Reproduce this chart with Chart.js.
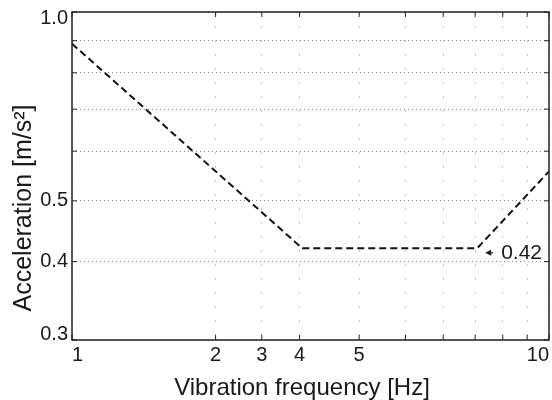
<!DOCTYPE html>
<html>
<head>
<meta charset="utf-8">
<title>Vibration acceleration limit</title>
<script src="https://cdn.jsdelivr.net/npm/chart.js@4.4.1/dist/chart.umd.min.js"></script>
<style>
  html, body { margin: 0; padding: 0; background: #fff; }
  #wrap { width: 552px; height: 400px; }
</style>
</head>
<body>
<div id="wrap"><canvas id="limitChart" width="552" height="400"></canvas></div>
<script>
// Limit curve: vibration frequency [Hz] against acceleration [m/s²]
const freqHz = [1, 3.04, 7.07, 10];
const accel = [0.89, 0.42, 0.42, 0.557];

// Tick positions and the labels printed under / beside them
const xTicks = [1, 2, 2.5, 3, 4, 5, 6, 7, 8, 9, 10];
const xTickLabels = ['1', '2', '3', '4', '5', '', '', '', '', '', '10'];
const yTicks = [0.3, 0.4, 0.5, 0.6, 0.7, 0.8, 0.9, 1.0];
const yTickLabels = ['0.3', '0.4', '0.5', '', '', '', '', '1.0'];

const xTitle = 'Vibration frequency [Hz]';
const yTitle = 'Acceleration [m/s²]';
const calloutIndex = 2; // end of the plateau gets a value tag

const FONT = '"Liberation Sans", Arial, Helvetica, sans-serif';
const INK = '#1a1a1a';

// Frame, inward tick marks, axis titles and the value tag
const framePlugin = {
  id: 'frame',
  afterDraw(chart) {
    const { ctx, chartArea: a, scales: { x, y } } = chart;
    ctx.save();
    ctx.setLineDash([]);
    ctx.strokeStyle = '#222';

    // tick marks pointing into the plot
    ctx.lineWidth = 1;
    ctx.beginPath();
    xTicks.forEach(v => {
      const px = x.getPixelForValue(v);
      ctx.moveTo(px, a.bottom); ctx.lineTo(px, a.bottom - 5);
      ctx.moveTo(px, a.top); ctx.lineTo(px, a.top + 5);
    });
    yTicks.forEach(v => {
      const py = y.getPixelForValue(v);
      ctx.moveTo(a.left, py); ctx.lineTo(a.left + 5, py);
      ctx.moveTo(a.right, py); ctx.lineTo(a.right - 5, py);
    });
    ctx.stroke();

    // box around the plot area
    ctx.lineWidth = 1.5;
    ctx.strokeRect(a.left, a.top, a.right - a.left, a.bottom - a.top);

    // axis titles
    ctx.fillStyle = INK;
    ctx.textAlign = 'center';
    ctx.textBaseline = 'alphabetic';
    ctx.font = '24px ' + FONT;
    ctx.fillText(xTitle, 302, 395);

    ctx.save();
    ctx.translate(31, 208);
    ctx.rotate(-Math.PI / 2);
    ctx.font = '25px ' + FONT;
    ctx.fillText(yTitle, 0, 0);
    ctx.restore();

    // value tag with a small arrowhead pointing back at the knee
    const px = x.getPixelForValue(freqHz[calloutIndex]);
    const py = y.getPixelForValue(accel[calloutIndex]);
    ctx.beginPath();
    ctx.moveTo(px + 8, py + 4.5);
    ctx.lineTo(px + 14, py + 1.5);
    ctx.lineTo(px + 14, py + 7.5);
    ctx.closePath();
    ctx.fill();
    ctx.lineWidth = 1.2;
    ctx.beginPath();
    ctx.moveTo(px + 13, py + 4.5);
    ctx.lineTo(px + 16, py + 4.5);
    ctx.stroke();

    ctx.font = '21px ' + FONT;
    ctx.textAlign = 'left';
    ctx.textBaseline = 'middle';
    ctx.fillText(accel[calloutIndex].toFixed(2), px + 24, py + 5);
    ctx.restore();
  }
};

const ctx = document.getElementById('limitChart').getContext('2d');

new Chart(ctx, {
  type: 'line',
  data: {
    datasets: [{
      data: freqHz.map((f, i) => ({ x: f, y: accel[i] })),
      borderColor: '#111',
      borderWidth: 2,
      borderDash: [7, 4],
      pointRadius: 0,
      tension: 0,
      fill: false
    }]
  },
  options: {
    responsive: false,
    animation: false,
    layout: { padding: { top: 12, right: 3, left: 0, bottom: 0 } },
    plugins: {
      legend: { display: false },
      tooltip: { enabled: false }
    },
    scales: {
      x: {
        type: 'logarithmic',
        min: 1,
        max: 10,
        afterBuildTicks: s => { s.ticks = xTicks.map(v => ({ value: v })); },
        afterFit: s => {
          s.height = 60;
          s.paddingLeft = 0;
          s.paddingRight = 0;
        },
        ticks: {
          autoSkip: false,
          maxRotation: 0,
          align: 'inner',
          padding: 3,
          color: INK,
          font: { family: FONT, size: 20 },
          callback: (value, index) => xTickLabels[index]
        },
        grid: { color: '#c4c4c4', lineWidth: 1, drawTicks: false },
        border: { display: false, dash: [2, 12] }
      },
      y: {
        type: 'logarithmic',
        min: 0.3,
        max: 1.0,
        afterBuildTicks: s => { s.ticks = yTicks.map(v => ({ value: v })); },
        afterFit: s => {
          s.width = 72;
          s.paddingTop = 0;
          s.paddingBottom = 0;
        },
        ticks: {
          autoSkip: false,
          padding: 4,
          color: INK,
          font: { family: FONT, size: 20, lineHeight: 0.6 },
          callback: function(value, index) {
            const label = yTickLabels[index];
            // keep the end labels inside the frame height
            if (index === 0) return [label, ''];
            if (index === yTicks.length - 1) return ['', label];
            return label;
          }
        },
        grid: { color: '#8c8c8c', lineWidth: 1, drawTicks: false },
        border: { display: false, dash: [1, 3] }
      }
    }
  },
  plugins: [framePlugin]
});
</script>
</body>
</html>
